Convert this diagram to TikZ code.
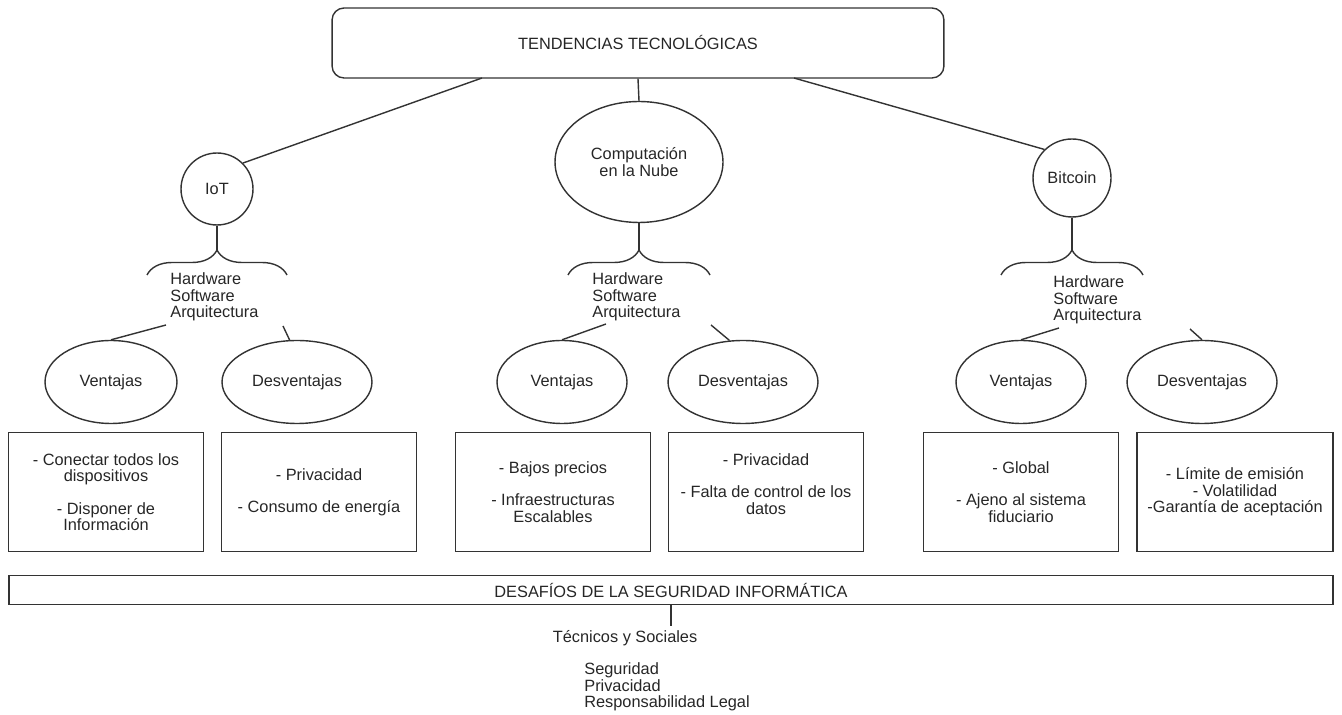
\documentclass[tikz,border=0pt]{standalone}
\usepackage{fontspec}
\setmainfont{Liberation Sans}
\usetikzlibrary{shapes.geometric}
\usetikzlibrary{decorations.pathreplacing}

\begin{document}
\begin{tikzpicture}[x=0.02cm, y=-0.02cm,
        every node/.style={font=\fontsize{9.3pt}{9.4pt}\selectfont, text=black!85},
        linea/.style={draw=black!80, line width=0.8pt},
        tema/.style={circle, linea, inner sep=0pt},
        opcion/.style={ellipse, linea, inner sep=0pt, minimum height=1.66cm},
        caja/.style={rectangle, linea, minimum width=3.9cm, minimum height=2.38cm, align=center, inner sep=0pt},
        lista/.style={align=left, anchor=west, inner sep=0pt},
        llave/.style={linea, decorate, decoration={brace, amplitude=0.5cm}}]
        \useasboundingbox (0,0) rectangle (1342,715);

        % Nodes
        \node[rectangle, linea, rounded corners=0.24cm, minimum width=12.24cm, minimum height=1.4cm] (top) at (638,43) {TENDENCIAS TECNOLÓGICAS};
        \node[tema, minimum size=1.44cm] (iot) at (217,189) {IoT};
        \node[opcion, minimum width=3.36cm, minimum height=2.42cm, align=center] (nube) at (639,162) {Computación\\en la Nube};
        \node[tema, minimum size=1.56cm] (btc) at (1072,178) {Bitcoin};

        \node[lista] (hw1) at (170,297) {Hardware\\Software\\Arquitectura};
        \node[lista] (hw2) at (592,297) {Hardware\\Software\\Arquitectura};
        \node[lista] (hw3) at (1053,300) {Hardware\\Software\\Arquitectura};

        \node[opcion, minimum width=2.64cm] (v1) at (111,382) {Ventajas};
        \node[opcion, minimum width=3cm] (d1) at (297,382) {Desventajas};
        \node[opcion, minimum width=2.6cm] (v2) at (562,382) {Ventajas};
        \node[opcion, minimum width=3cm] (d2) at (743,382) {Desventajas};
        \node[opcion, minimum width=2.6cm] (v3) at (1021,382) {Ventajas};
        \node[opcion, minimum width=3cm] (d3) at (1202,382) {Desventajas};

        \node[caja] (c1) at (106,492) {- Conectar todos los\\dispositivos\\[9pt]- Disponer de\\Información};
        \node[caja] (c2) at (319,492) {- Privacidad\\[9pt]- Consumo de energía};
        \node[caja] (c3) at (553,492) {- Bajos precios\\[9pt]- Infraestructuras\\Escalables};
        \node[caja] (c4) at (766,492) {- Privacidad\\[9pt]- Falta de control de los\\datos\\\mbox{}};
        \node[caja] (c5) at (1021,492) {- Global\\[9pt]- Ajeno al sistema\\fiduciario};
        \node[caja, minimum width=3.92cm] (c6) at (1235,492) {- Límite de emisión\\- Volatilidad\\-Garantía de aceptación};

        \node[rectangle, linea, minimum width=26.48cm, minimum height=0.58cm] (bar) at (671,590) {DESAFÍOS DE LA SEGURIDAD INFORMÁTICA};
        \node[inner sep=2pt, anchor=west] (tec) at (549,638) {Técnicos y Sociales};
        \node[lista] (ret) at (584,687) {Seguridad\\Privacidad\\Responsabilidad Legal};

        \coordinate (tIoT) at (482,78);
        \coordinate (tBtc) at (794,78);
        \coordinate (br1) at (217,250);
        \coordinate (br2) at (639,250);
        \coordinate (br3) at (1072,250);
        \coordinate (hw1v) at (166,325);
        \coordinate (hw1d) at (283,326);
        \coordinate (hw2v) at (606,324);
        \coordinate (hw2d) at (711,325);
        \coordinate (hw3v) at (1059,328);
        \coordinate (hw3d) at (1190,329);

        % Braces
        \draw[llave] (147,275) -- (287,275);
        \draw[llave] (568,275) -- (710,275);
        \draw[llave] (1001,275) -- (1143,275);

        % Edges
        \draw[linea] (tIoT) -- (iot.45);
        \draw[linea] (top.south) -- (nube.north);
        \draw[linea] (tBtc) -- (btc.134);
        \draw[linea] (iot) -- (br1);
        \draw[linea] (nube) -- (br2);
        \draw[linea] (btc) -- (br3);
        \draw[linea] (hw1v) -- (v1.north);
        \draw[linea] (hw1d) -- (d1.100);
        \draw[linea] (hw2v) -- (v2.north);
        \draw[linea] (hw2d) -- (d2.108);
        \draw[linea] (hw3v) -- (v3.north);
        \draw[linea] (hw3d) -- (d3.north);
        \draw[linea] (bar.south) -- (bar.south |- tec.north);

    \end{tikzpicture}
\end{document}
